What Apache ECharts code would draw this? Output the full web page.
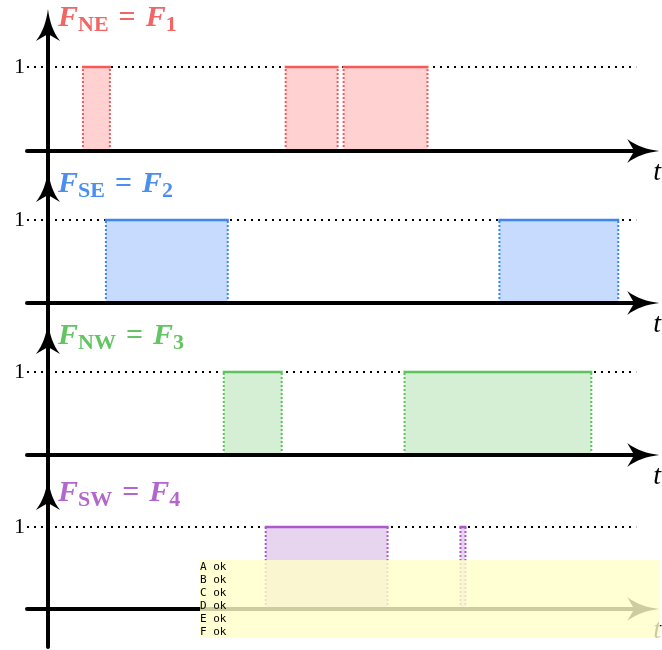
<!DOCTYPE html>
<html>
<head>
<meta charset="utf-8">
<script src="https://cdn.jsdelivr.net/npm/echarts@6/dist/echarts.min.js"></script>
<style>
html, body { margin: 0; padding: 0; background: #fff; }
#main { width: 662px; height: 650px; }
#err { position: absolute; left: 200px; top: 560px; font: 11px monospace; white-space: pre-wrap; width: 460px; background: rgba(255,255,200,0.8); }
</style>
</head>
<body>
<div id="main"></div>
<div id="err"></div>
<script>
var subNames = ['NE', 'SE', 'NW', 'SW'];
var subIdx = ['1', '2', '3', '4'];
var intervalsNE = [[3.5, 6.2, 1], [23.8, 29.0, 1], [29.6, 38.0, 1]];
var intervalsSE = [[5.8, 18.0, 1], [45.2, 57.1, 1]];
var intervalsNW = [[17.6, 23.4, 1], [35.7, 54.4, 1]];
var intervalsSW = [[21.8, 34.0, 1], [41.3, 41.8, 1]];
var levelTicks = [1];
var dottedRange = [-2.1, 58.9];
var tRange = [-2.1, 59.6];

var allIntervals = [intervalsNE, intervalsSE, intervalsNW, intervalsSW];
var lineColors = ['#f65a5a', '#3d86f2', '#5bc45b', '#ac58c9'];
var fillColors = ['#ffd1d1', '#c6dbfd', '#d4efd4', '#e7d4ef'];
var titleColors = ['#f26565', '#4a8ef0', '#62c462', '#b366cc'];

var axisY = [151, 303, 455, 609];
var levelY = [67, 220, 372, 527];
var tipY = [9, 170, 322, 478];
var titleTop = [4, 170, 322, 479];
var arrowLen = 32;
var below = 38;

var arrowPath = 'path://M12,0 C13.5,12 17,23 24,32 L12,25 L0,32 C7,23 10.5,12 12,0 Z';
var serif = 'Liberation Serif';

function makeBox(color, fill) {
    return function (params, api) {
        var a = api.coord([api.value(0), 0]);
        var b = api.coord([api.value(1), api.value(2)]);
        return {
            type: 'group',
            children: [
                { type: 'rect', shape: { x: a[0], y: b[1], width: b[0] - a[0], height: a[1] - b[1] }, style: { fill: fill } },
                { type: 'line', shape: { x1: a[0], y1: a[1], x2: a[0], y2: b[1] }, style: { stroke: color, lineWidth: 2, lineDash: [2, 2] } },
                { type: 'line', shape: { x1: b[0], y1: a[1], x2: b[0], y2: b[1] }, style: { stroke: color, lineWidth: 2, lineDash: [2, 2] } },
                { type: 'line', shape: { x1: a[0] - 1, y1: b[1], x2: b[0] + 1, y2: b[1] }, style: { stroke: color, lineWidth: 2.5 } }
            ]
        };
    };
}

function richFor(color) {
    return {
        i: { fontFamily: serif, fontStyle: 'italic', fontSize: 30, lineHeight: 32, color: color, verticalAlign: 'bottom', padding: [0, 0, 3, 0] },
        r: { fontFamily: serif, fontSize: 30, lineHeight: 32, color: color, verticalAlign: 'bottom', padding: [0, 10, 3, 10] },
        s: { fontFamily: serif, fontSize: 22, lineHeight: 22, color: color, verticalAlign: 'bottom' }
    };
}

function build(f) {
    var grids = [], xAxes = [], yAxes = [], series = [], titles = [];
    for (var i = 0; i < 4; i++) {
        var u = axisY[i] - levelY[i];
        var top = tipY[i] + arrowLen / 2;
        var bottom = axisY[i] + below;
        var g = { left: 27, top: top, width: 617, height: bottom - top };
        if (!f.F) g.outerBoundsMode = 'none';
        grids.push(g);
        var xa = {
            type: 'value', gridIndex: i, min: tRange[0], max: tRange[1],
            axisLine: { onZero: true, symbol: ['none', arrowPath], symbolSize: [24, arrowLen], lineStyle: { color: '#000', width: 4 } },
            axisTick: { show: false }, axisLabel: { show: false }, splitLine: { show: false }
        };
        var ya = {
            type: 'value', gridIndex: i, min: -below / u, max: (axisY[i] - top) / u,
            axisLine: { onZero: true, symbol: ['none', arrowPath], symbolSize: [24, arrowLen], lineStyle: { color: '#000', width: 4 } },
            axisTick: { show: false }, splitLine: { show: false }, axisLabel: { show: false }
        };
        if (f.A) { xa.z = 10; ya.z = 10; }
        if (f.B) {
            xa.name = 't'; xa.nameLocation = 'end'; xa.nameGap = 10;
            xa.nameTextStyle = { fontFamily: serif, fontStyle: 'italic', fontSize: 28, color: '#000', verticalAlign: 'top', padding: [8, 0, 0, 0] };
        }
        xAxes.push(xa); yAxes.push(ya);
        var d0 = [dottedRange[0], 1];
        if (f.E) d0 = { value: [dottedRange[0], 1], label: { show: true, position: 'left', distance: 2, formatter: '1', fontFamily: serif, fontSize: 22, color: '#000', padding: [0, 0, 8, 0] } };
        series.push({
            type: 'line', xAxisIndex: i, yAxisIndex: i, silent: true, z: 1,
            symbol: 'circle', symbolSize: 0, showSymbol: !!f.E,
            data: [d0, [dottedRange[1], 1]],
            lineStyle: { color: '#000', width: 2, type: [2, 5] }
        });
        if (f.C) series.push({
            type: 'custom', xAxisIndex: i, yAxisIndex: i, silent: true, z: 3,
            data: allIntervals[i], encode: { x: [0, 1], y: 2 },
            renderItem: makeBox(lineColors[i], fillColors[i])
        });
        if (f.D) titles.push({
            left: 58, top: titleTop[i], padding: 0,
            text: '{i|F}{s|' + subNames[i] + '}{r|=}{i|F}{s|' + subIdx[i] + '}',
            textStyle: { rich: richFor(titleColors[i]) }
        });
    }
    var o = { animation: false, grid: grids, xAxis: xAxes, yAxis: yAxes, series: series };
    if (f.D) o.title = titles;
    return o;
}

var log = [];
var feats = ['A', 'B', 'C', 'D', 'E', 'F'];
var good = {};
feats.forEach(function (k) {
    var d = document.createElement('div');
    d.style.width = '662px'; d.style.height = '650px';
    document.body.appendChild(d);
    var f = {}; f[k] = true;
    if (k === 'F') f.B = true;
    try {
        var c = echarts.init(d);
        c.setOption(build(f));
        log.push(k + ' ok');
        good[k] = true;
    } catch (e) {
        log.push(k + ' FAIL ' + e.message + ' ' + String(e.stack).slice(0, 300));
    }
});
try {
    echarts.init(document.getElementById('main')).setOption(build(good));
} catch (e) { log.push('main FAIL ' + e.message); }
document.getElementById('err').textContent = log.join('\n');
</script>
</body>
</html>
